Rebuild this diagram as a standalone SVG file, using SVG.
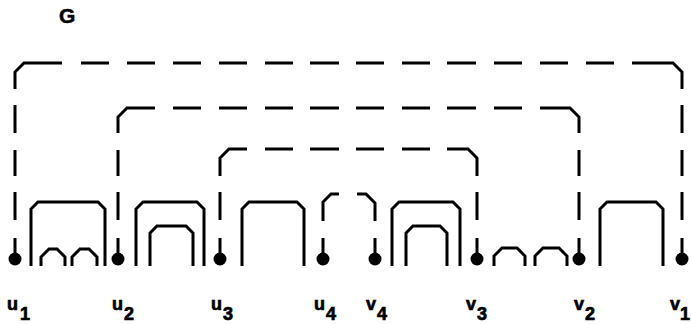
<svg xmlns="http://www.w3.org/2000/svg" width="691" height="324" viewBox="0 0 691 324">
<style>
  .ln { fill: none; stroke: #000; stroke-width: 3; stroke-linejoin: miter; stroke-linecap: butt; }
  .dot { fill: #000; }
  .lbl { font-family: "Liberation Sans", Arial, sans-serif; font-weight: bold; font-size: 18px; fill: #000; stroke: #000; stroke-width: 0.7; }
  .ttl { font-family: "Liberation Sans", Arial, sans-serif; font-weight: bold; font-size: 21px; fill: #000; stroke: #000; stroke-width: 0.5; }
</style>
<rect width="691" height="324" fill="#fff"/>
<text class="ttl" x="59" y="23">G</text>

<g id="connectors">
  <!-- outer dashed edge u1 - v1 -->
  <path class="ln" d="M15,259 V238 M15,220 V192 M15,176 V150 M15,133 V105 M15,89 V72 L24,63 H62
    M81,63 H109 M127,63 H155 M173,63 H201 M219,63 H247 M265,63 H293 M310,63 H339 M356,63 H384 M402,63 H430 M447,63 H476 M494,63 H522 M540,63 H568 M586,63 H614
    M632,63 H673 L682,72 V89 M682,105 V133 M682,150 V176 M682,192 V220 M682,238 V259"/>
  <!-- middle dashed edge u2 - v2 -->
  <path class="ln" d="M118,259 V238 M118,220 V192 M118,176 V150 M118,133 V117 L127,108 H155
    M173,108 H201 M219,108 H247 M265,108 H293 M310,108 H339 M356,108 H384 M402,108 H430 M447,108 H476 M494,108 H522
    M540,108 H570 L579,117 V133 M579,150 V176 M579,192 V220 M579,238 V259"/>
  <!-- inner dashed edge u3 - v3 -->
  <path class="ln" d="M220,259 V238 M220,220 V192 M220,176 V158 L229,149 H247
    M265,149 H293 M310,149 H339 M356,149 H384 M402,149 H430
    M447,149 H468 L477,158 V176 M477,192 V220 M477,238 V259"/>
  <!-- dashed edge u4 - v4 -->
  <path class="ln" d="M323,259 V238 M323,221 V202 L331,194 H339 M357,194 H366 L375,203 V221 M375,238 V259"/>

  <!-- solid arcs between u1 and u2 -->
  <path class="ln" d="M31,266 V209 L38,202 H98 L105,209 V266"/>
  <path class="ln" d="M41,266 V257 L49,249 H57 L65,257 V266"/>
  <path class="ln" d="M72,266 V257 L80,249 H89 L97,257 V266"/>
  <!-- solid arcs between u2 and u3 -->
  <path class="ln" d="M136,266 V209 L143,202 H197 L204,209 V266"/>
  <path class="ln" d="M150,266 V233 L157,226 H186 L193,233 V266"/>
  <!-- solid arc between u3 and u4 -->
  <path class="ln" d="M242,266 V209 L249,202 H297 L304,209 V266"/>
  <!-- solid arcs between v4 and v3 -->
  <path class="ln" d="M392,266 V209 L399,202 H453 L460,209 V266"/>
  <path class="ln" d="M406,266 V233 L413,226 H440 L447,233 V266"/>
  <!-- solid arcs between v3 and v2 -->
  <path class="ln" d="M494,266 V256 L502,248 H517 L525,256 V266"/>
  <path class="ln" d="M535,266 V256 L543,248 H559 L567,256 V266"/>
  <!-- solid arc between v2 and v1 -->
  <path class="ln" d="M600,266 V209 L607,202 H656 L663,209 V266"/>
</g>

<g id="u1"><circle class="dot" cx="15" cy="259" r="6.5"/><text class="lbl" x="7" y="310">u<tspan dx="2" dy="10">1</tspan></text></g>
<g id="u2"><circle class="dot" cx="118" cy="259" r="6.5"/><text class="lbl" x="112" y="310">u<tspan dx="1" dy="10">2</tspan></text></g>
<g id="u3"><circle class="dot" cx="220" cy="259" r="6.5"/><text class="lbl" x="211" y="310">u<tspan dx="1" dy="10">3</tspan></text></g>
<g id="u4"><circle class="dot" cx="323" cy="259" r="6.5"/><text class="lbl" x="314" y="310">u<tspan dx="1" dy="10">4</tspan></text></g>
<g id="v4"><circle class="dot" cx="375" cy="259" r="6.5"/><text class="lbl" x="366" y="310">v<tspan dx="1" dy="10">4</tspan></text></g>
<g id="v3"><circle class="dot" cx="477" cy="259" r="6.5"/><text class="lbl" x="466" y="310">v<tspan dx="1" dy="10">3</tspan></text></g>
<g id="v2"><circle class="dot" cx="579" cy="259" r="6.5"/><text class="lbl" x="574" y="310">v<tspan dx="1" dy="10">2</tspan></text></g>
<g id="v1"><circle class="dot" cx="682" cy="259" r="6.5"/><text class="lbl" x="670" y="310">v<tspan dx="0" dy="10">1</tspan></text></g>
</svg>
